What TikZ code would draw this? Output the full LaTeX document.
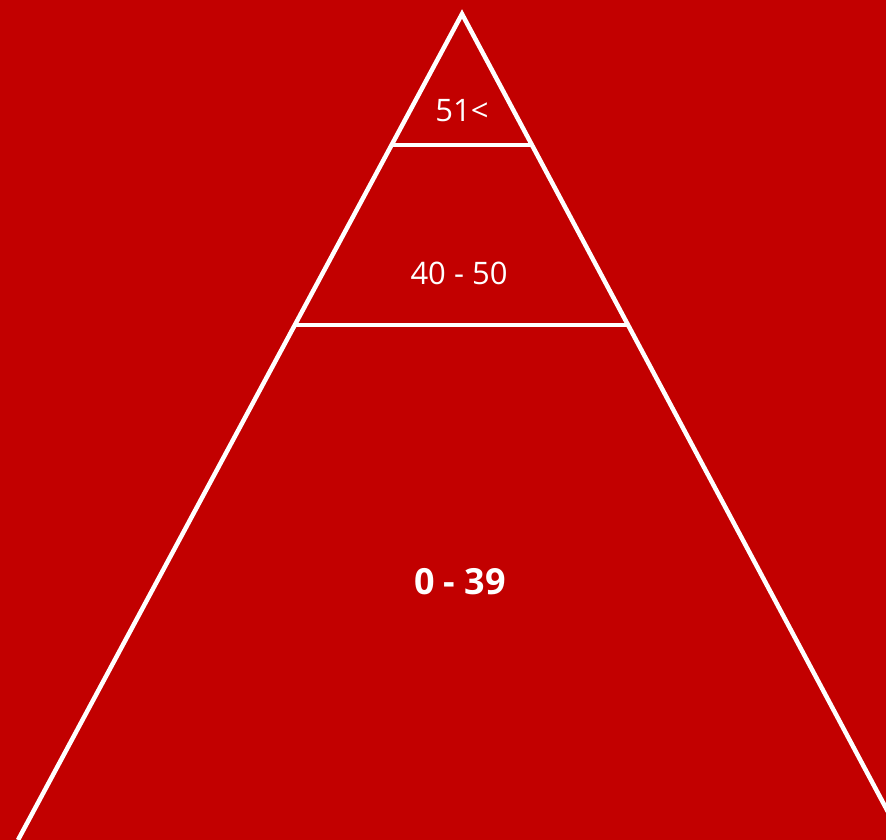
\documentclass[tikz,border=0pt]{standalone}
\usepackage{fontspec}
\setmainfont{Open Sans}
\definecolor{fondo}{RGB}{194,0,0}
\begin{document}
\begin{tikzpicture}[x=1pt,y=-1pt,
    linea/.style={white,line width=4.5pt,line join=miter},
    etichetta/.style={white,font=\fontsize{31}{31}\selectfont},
    etichettab/.style={white,font=\fontsize{36}{36}\selectfont\bfseries}]
        \useasboundingbox (0,0) rectangle (886,840);
        \fill[fondo] (0,0) rectangle (886,840);
        \clip (0,0) rectangle (886,840);
        %vertici
        \coordinate (apice) at (462,14);
        \coordinate (bassoSx) at (18,840);
        \coordinate (bassoDx) at (903,840);
        \coordinate (aSx) at (393,145);
        \coordinate (aDx) at (531,145);
        \coordinate (bSx) at (295,325);
        \coordinate (bDx) at (628,325);
        %piramide
        \draw[linea] (bassoSx)--(apice)--(bassoDx);
        \draw[linea] (aSx)--(aDx);
        \draw[linea] (bSx)--(bDx);
        %label
        \node[etichetta] (alto) at (462,111) {51<};
        \node[etichetta] (medio) at (459,273) {40 - 50};
        \node[etichettab] (basso) at (460,582) {0 - 39};
\end{tikzpicture}
\end{document}
